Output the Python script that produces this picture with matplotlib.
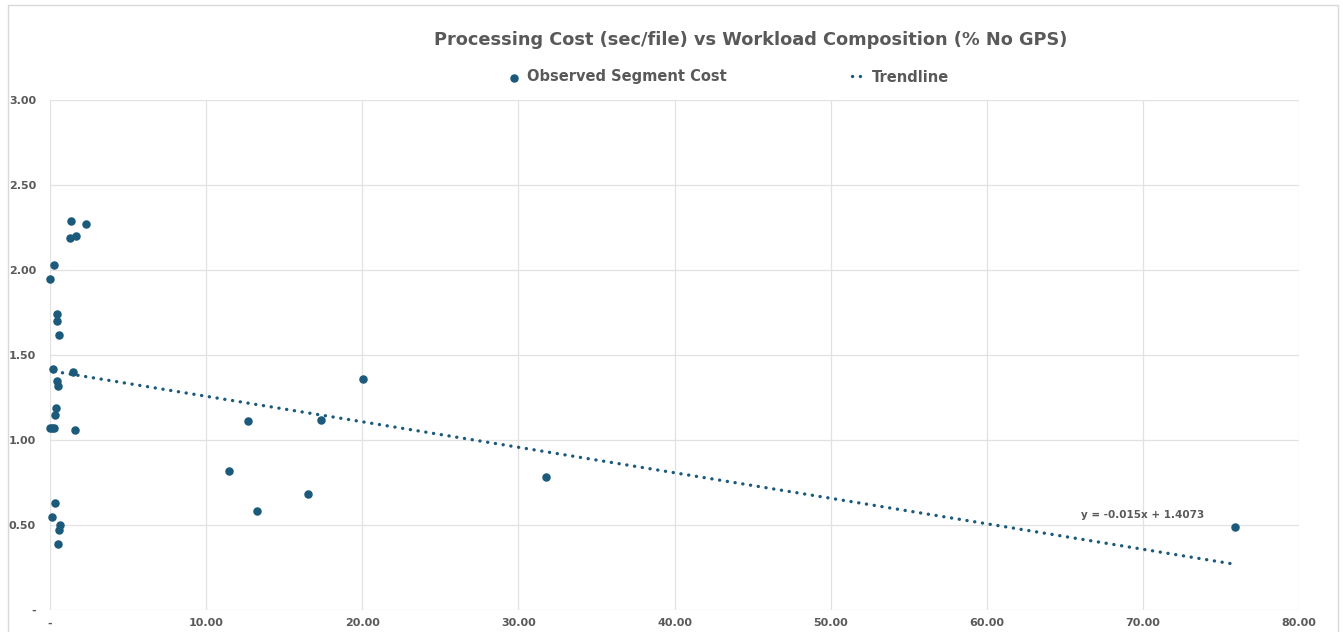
import matplotlib.pyplot as plt
from matplotlib.patches import Rectangle
import numpy as np

# --- data ---
pct_no_gps = [0.0, 0.25, 1.35, 1.25, 1.67, 2.33, 0.44, 0.44, 0.58, 0.17, 1.46,
              0.44, 0.50, 0.40, 0.31, 0.0, 0.12, 0.25, 1.58, 0.31, 0.15, 0.65,
              0.56, 0.50, 11.46, 12.68, 13.25, 16.5, 17.35, 20.04, 31.8, 75.9]
sec_per_file = [1.95, 2.03, 2.29, 2.19, 2.20, 2.27, 1.74, 1.70, 1.62, 1.42, 1.40,
                1.35, 1.32, 1.19, 1.15, 1.07, 1.07, 1.07, 1.06, 0.63, 0.55, 0.50,
                0.47, 0.39, 0.82, 1.11, 0.58, 0.68, 1.12, 1.36, 0.78, 0.49]
trend_slope = -0.015
trend_icpt = 1.4073
x_ticks = [0, 10, 20, 30, 40, 50, 60, 70, 80]
y_ticks = [0, 0.5, 1.0, 1.5, 2.0, 2.5, 3.0]

teal = '#1c5a7b'
grey = '#595959'
plt.rcParams['font.family'] = ['DejaVu Sans']

fig = plt.figure(figsize=(13.43, 6.32), dpi=100)
ax = fig.add_axes([50 / 1343, 1 - 610 / 632, 1249 / 1343, 510 / 632])

ax.scatter(pct_no_gps, sec_per_file, s=26, color=teal, zorder=3, clip_on=False,
           label='Observed Segment Cost')
tx = np.array([0.3, max(pct_no_gps)])
ax.plot(tx, trend_slope * tx + trend_icpt, color=teal, lw=2.4,
        linestyle=(0, (0.05, 2.3)), dash_capstyle='round', zorder=2,
        label='Trendline')
ax.text(70.0, 0.56, 'y = -0.015x + 1.4073', ha='center', va='center',
        fontsize=7.5, fontweight='bold', color=grey)

ax.set_xlim(0, 80)
ax.set_ylim(0, 3)
ax.set_xticks(x_ticks)
ax.set_yticks(y_ticks)
ax.set_xticklabels(['-' if v == 0 else f'{v:.2f}' for v in x_ticks])
ax.set_yticklabels(['-' if v == 0 else f'{v:.2f}' for v in y_ticks])
ax.tick_params(length=0, labelsize=8, labelcolor=grey)
ax.tick_params(axis='y', pad=10)
ax.tick_params(axis='x', pad=6)
for lbl in ax.get_xticklabels() + ax.get_yticklabels():
    lbl.set_fontweight('bold')
ax.grid(True, color='#e2e2e2', lw=0.9)
ax.set_axisbelow(True)
for s in ax.spines.values():
    s.set_visible(False)

fig.text(751 / 1343, 1 - 40 / 632,
         'Processing Cost (sec/file) vs Workload Composition (% No GPS)',
         ha='center', va='center', fontsize=12.8, fontweight='bold', color=grey)

leg = fig.legend(loc='center', bbox_to_anchor=(728 / 1343, 1 - 77 / 632), ncol=2,
                 frameon=False, handlelength=1.0, handletextpad=0.35,
                 columnspacing=8.6, prop={'weight': 'bold', 'size': 10.5})
for t in leg.get_texts():
    t.set_color(grey)

# light chart-area border
fig.patches.append(Rectangle((8 / 1343, -0.01), 1330 / 1343, 1 - 5 / 632 + 0.01,
                             transform=fig.transFigure, fill=False,
                             edgecolor='#d9d9d9', lw=1))

fig.savefig('out.png', dpi=100)
